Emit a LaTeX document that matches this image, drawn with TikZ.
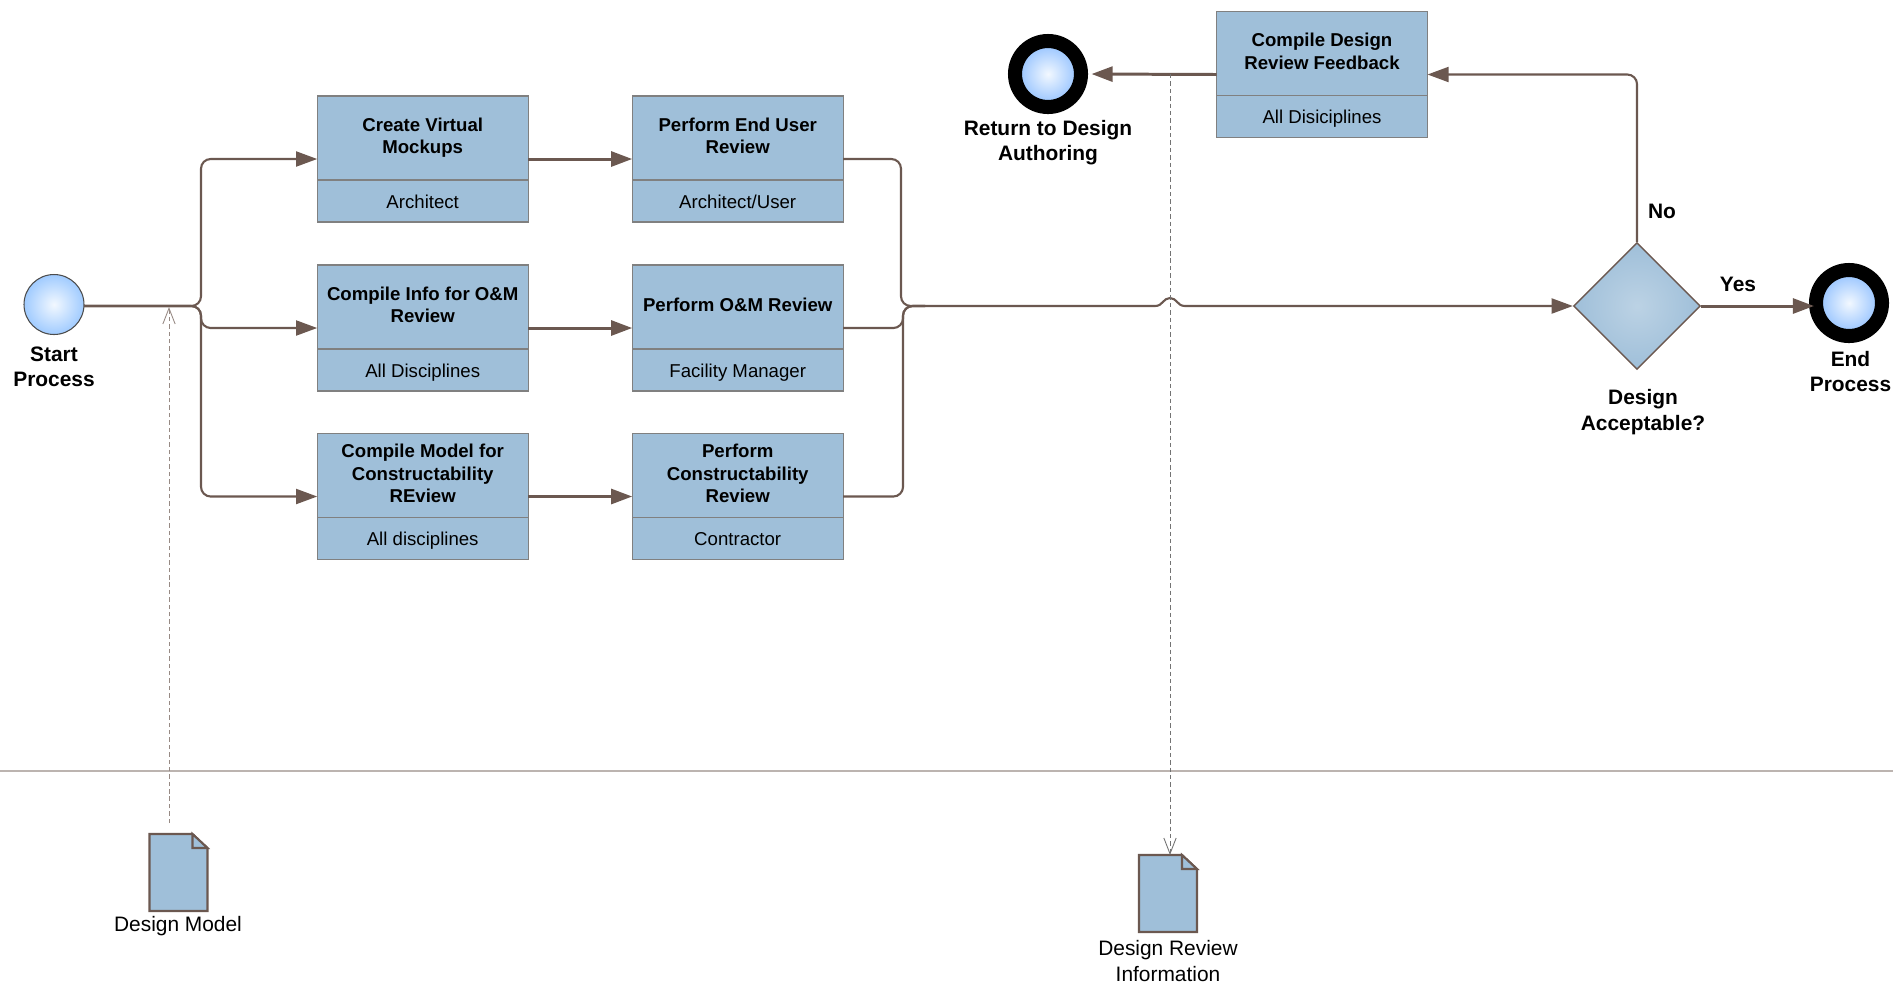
\documentclass[tikz,border=0pt]{standalone}
\usepackage{fontspec}
\setmainfont{Liberation Sans}
\usetikzlibrary{arrows.meta,calc,positioning,shapes.geometric}
\definecolor{taskblue}{HTML}{9FBFD9}
\definecolor{flowbrown}{HTML}{6B5850}
\definecolor{eventblue}{HTML}{A0CBFF}
\definecolor{ringblue}{HTML}{8DBEFF}
\definecolor{eventglow}{HTML}{F2F8FF}
\tikzset{
	taskbox/.style={draw=black!50, fill=taskblue, line width=0.6pt, minimum width=4.22cm, minimum height=2.52cm, outer sep=0pt},
	taskhead/.style={minimum width=4.22cm, minimum height=1.68cm, inner sep=0pt, outer sep=0pt, align=center, font=\fontsize{10.6}{12.8}\selectfont\bfseries},
	taskrole/.style={draw=black!50, line width=0.6pt, minimum width=4.22cm, minimum height=0.84cm, inner sep=0pt, outer sep=0pt, text height=9.5pt, text depth=1.2pt, font=\fontsize{10.6}{12.8}\selectfont},
	flow/.style={draw=flowbrown, line width=1.2pt, rounded corners=5.5pt, -{Triangle[length=12pt,width=8.5pt]}},
	flowthick/.style={flow, line width=1.7pt},
	flowplain/.style={draw=flowbrown, line width=1.2pt, rounded corners=5.5pt},
	assoc/.style={draw=black!55, line width=0.5pt, dash pattern=on 2.5pt off 1.7pt, -{Straight Barb[length=9pt,width=7pt]}},
	startevent/.style={circle, draw=black!70, line width=0.6pt, inner color=eventglow, outer color=eventblue, minimum size=1.2cm, inner sep=0pt},
	endevent/.style={circle, draw=black, line width=8pt, inner color=eventglow, outer color=ringblue, minimum size=1.32cm, inner sep=0pt},
	gateway/.style={diamond, aspect=1, draw=flowbrown, line width=0.8pt, inner color=taskblue!70!white, outer color=taskblue, minimum size=2.54cm, inner sep=0pt},
	biglabel/.style={align=center, inner sep=0pt, font=\fontsize{11.9}{14.4}\selectfont\bfseries},
	doclabel/.style={align=center, inner sep=0pt, font=\fontsize{11.9}{14.4}\selectfont},
	docspot/.style={minimum width=1.16cm, minimum height=1.54cm, inner sep=0pt, outer sep=0pt},
	docline/.style={draw=flowbrown, fill=taskblue, line width=1.2pt}
}
\newcommand{\tasknode}[4]{
	\node[taskbox] (#1) at (#2) {};
	\node[taskhead, below=0pt of #1.north] (#1head) {\strut #3\strut};
	\node[taskrole, above=0pt of #1.south] (#1role) {#4};
}
\def\docicon(#1){
	\draw[docline] (#1.south west) -- (#1.north west) -- ($(#1.north east)+(-15,0)$) -- ($(#1.north east)+(0,14)$) -- (#1.south east) -- cycle;
	\draw[docline] ($(#1.north east)+(-15,0)$) -- ($(#1.north east)+(-15,14)$) -- ($(#1.north east)+(0,14)$) -- cycle;
}

\begin{document}
\begin{tikzpicture}[x=0.02cm, y=-0.02cm]
	\useasboundingbox (0, 0) rectangle (1893, 985);

	%%%%% lane rule %%%%%
	\draw[line width=0.6pt, color=flowbrown!45] (0, 771) -- (1893, 771);

	%%%%% events %%%%%
	\node[startevent] (start) at (54, 304.5) {};
	\node[biglabel] (startlabel) at (54, 367) {Start\\Process};
	\node[endevent] (return) at (1048, 74) {};
	\node[biglabel] (returnlabel) at (1048, 142.5) {Return to Design\\Authoring};
	\node[endevent] (finish) at (1849, 303) {};
	\node[biglabel] (finishlabel) at (1850.5, 371.5) {End\\Process};

	%%%%% tasks %%%%%
	\tasknode{mockup}{422.7, 159}{Create Virtual\\Mockups}{Architect}
	\tasknode{info}{422.7, 328}{Compile Info for O\&M\\Review}{All Disciplines}
	\tasknode{model}{422.7, 496.5}{Compile Model for\\Constructability\\REview}{All disciplines}
	\tasknode{user}{737.7, 159}{Perform End User\\Review}{Architect/User}
	\tasknode{facility}{737.7, 328}{Perform O\&M Review}{Facility Manager}
	\tasknode{contractor}{737.7, 496.5}{Perform\\Constructability\\Review}{Contractor}
	\tasknode{feedback}{1322, 74.5}{Compile Design\\Review Feedback}{All Disiciplines}

	%%%%% decision %%%%%
	\node[gateway] (decision) at (1637, 306) {};
	\node[biglabel] (decisionlabel) at (1643, 412) {Design\\Acceptable?};
	\node[biglabel] (yeslabel) at (1738, 284) {Yes};
	\node[biglabel] (nolabel) at (1662, 211) {No};

	%%%%% documents %%%%%
	\node[docspot] (docmodel) at (178.5, 872.5) {};
	\docicon(docmodel)
	\node[doclabel] (docmodellabel) at (178, 926) {Design Model};
	\node[docspot] (docreview) at (1168, 893.5) {};
	\docicon(docreview)
	\node[doclabel] (docreviewlabel) at (1168, 961) {Design Review\\Information};

	%%%%% connector points %%%%%
	\coordinate (startout) at (84, 306);
	\coordinate (split) at (201, 306);
	\coordinate (joina) at (901, 306);
	\coordinate (joinb) at (903, 306);
	\coordinate (joinout) at (925, 306);
	\coordinate (hopa) at (1155, 306);
	\coordinate (hopb) at (1170, 298);
	\coordinate (hopc) at (1185, 306);
	\coordinate (finishin) at (1814, 306);
	\coordinate (modelfrom) at (169, 823);
	\coordinate (modelto) at (169, 307);
	\coordinate (reviewfrom) at (1170, 74);
	\coordinate (reviewto) at (1170, 855);

	%%%%% flows %%%%%
	\draw[flow] (startout) -- (split) |- (mockup.west);
	\draw[flow] (startout) -- (split) |- (info.west);
	\draw[flow] (startout) -- (split) |- (model.west);
	\draw[flowthick] (mockup.east) -- (user.west);
	\draw[flowthick] (info.east) -- (facility.west);
	\draw[flowthick] (model.east) -- (contractor.west);
	\draw[flowplain] (user.east) -| (joina) -- (joinout);
	\draw[flowplain] (facility.east) -| (joinb) -- (joinout);
	\draw[flowplain] (contractor.east) -| (joinb) -- (joinout);
	\draw[flow, rounded corners=0pt] (joinout) -- (hopa) .. controls (1163, 306) and (1163, 298) .. (hopb) .. controls (1177, 298) and (1177, 306) .. (hopc) -- (decision.west);
	\draw[flowthick] (decision.east) -- (finishin);
	\draw[flow] (decision.north) |- (feedback.east);
	\draw[flowthick, shorten >=2pt] (feedback.west) -- (return.east);

	%%%%% associations %%%%%
	\draw[assoc, draw=flowbrown!70] (modelfrom) -- (modelto);
	\draw[assoc] (reviewfrom) -- (reviewto);
\end{tikzpicture}
\end{document}
